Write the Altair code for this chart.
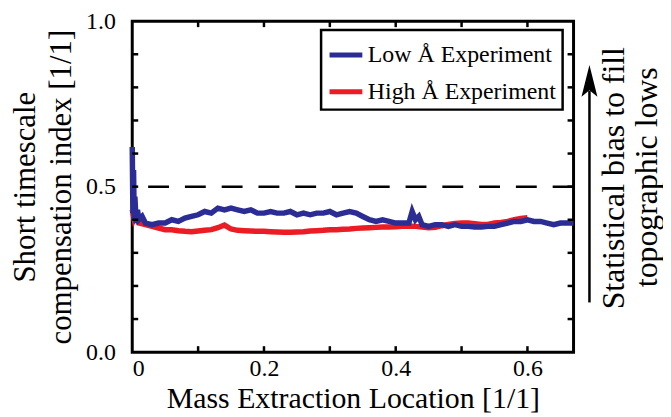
import altair as alt
import pandas as pd

# ---- data ----
blue_x = [0, 0.001, 0.002, 0.003, 0.004, 0.006, 0.008, 0.01, 0.015, 0.02,
          0.03, 0.04, 0.05, 0.06, 0.07, 0.08, 0.09, 0.10, 0.11, 0.12,
          0.13, 0.14, 0.15, 0.16, 0.17, 0.18, 0.19, 0.20, 0.21, 0.22,
          0.23, 0.24, 0.25, 0.26, 0.27, 0.28, 0.29, 0.30, 0.31, 0.32,
          0.33, 0.34, 0.35, 0.36, 0.37, 0.38, 0.39, 0.40, 0.41, 0.42,
          0.425, 0.43, 0.435, 0.44, 0.45, 0.46, 0.47, 0.48, 0.49, 0.50,
          0.51, 0.52, 0.53, 0.54, 0.55, 0.56, 0.57, 0.58, 0.59, 0.60,
          0.61, 0.62, 0.63, 0.64, 0.65, 0.66, 0.67]
blue_y = [0.62, 0.42, 0.55, 0.40, 0.47, 0.39, 0.43, 0.40, 0.41, 0.39,
          0.385, 0.39, 0.39, 0.40, 0.395, 0.405, 0.41, 0.415, 0.425, 0.42,
          0.435, 0.43, 0.435, 0.43, 0.425, 0.43, 0.42, 0.42, 0.425, 0.42,
          0.42, 0.425, 0.415, 0.42, 0.415, 0.42, 0.42, 0.425, 0.415, 0.42,
          0.425, 0.42, 0.41, 0.40, 0.395, 0.40, 0.395, 0.39, 0.39, 0.39,
          0.425, 0.40, 0.41, 0.385, 0.38, 0.385, 0.385, 0.38, 0.385, 0.38,
          0.38, 0.378, 0.378, 0.38, 0.38, 0.385, 0.39, 0.395, 0.395, 0.40,
          0.395, 0.395, 0.39, 0.385, 0.39, 0.39, 0.39]

red_x = [0, 0.003, 0.006, 0.01, 0.02, 0.03, 0.04, 0.05, 0.06, 0.07,
         0.08, 0.09, 0.10, 0.11, 0.12, 0.13, 0.14, 0.15, 0.16, 0.17,
         0.18, 0.19, 0.20, 0.21, 0.22, 0.23, 0.24, 0.25, 0.26, 0.27,
         0.28, 0.29, 0.30, 0.31, 0.32, 0.33, 0.34, 0.35, 0.36, 0.37,
         0.38, 0.39, 0.40, 0.41, 0.42, 0.43, 0.44, 0.45, 0.46, 0.47,
         0.48, 0.49, 0.50, 0.51, 0.52, 0.53, 0.54, 0.55, 0.56, 0.57,
         0.58, 0.59, 0.60]
red_y = [0.43, 0.40, 0.41, 0.39, 0.385, 0.38, 0.375, 0.37, 0.37, 0.367,
         0.365, 0.364, 0.366, 0.368, 0.37, 0.376, 0.384, 0.372, 0.368, 0.367,
         0.366, 0.365, 0.365, 0.364, 0.363, 0.362, 0.362, 0.363, 0.364, 0.366,
         0.367, 0.368, 0.37, 0.37, 0.371, 0.372, 0.374, 0.375, 0.376, 0.377,
         0.378, 0.378, 0.379, 0.38, 0.381, 0.38, 0.378, 0.376, 0.377, 0.382,
         0.386, 0.389, 0.39, 0.39, 0.388, 0.386, 0.386, 0.39, 0.392, 0.395,
         0.40, 0.404, 0.406]

series_names = ["Low Å Experiment", "High Å Experiment"]
series_colors = ["#2b2d94", "#ec1c24"]
x_label_values = [0, 0.2, 0.4, 0.6]
y_label_values = [0.0, 0.5, 1.0]
x_minor_ticks = [0.1, 0.2, 0.3, 0.4, 0.5, 0.6]
y_minor_ticks = [0.1, 0.2, 0.3, 0.4, 0.5, 0.6, 0.7, 0.8, 0.9]
reference_level = [0.5]

FONT = "Liberation Serif, Times New Roman, serif"
W, H = 444, 333

blue = pd.DataFrame({"x": blue_x, "y": blue_y, "series": series_names[0]})
red = pd.DataFrame({"x": red_x, "y": red_y, "series": series_names[1]})

xscale = alt.Scale(domain=[0, 0.67], nice=False, zero=False)
yscale = alt.Scale(domain=[0, 1], nice=False)
cscale = alt.Scale(domain=series_names, range=series_colors)

xaxis = alt.Axis(values=x_label_values,
                 labelExpr="datum.value == 0 ? '0' : format(datum.value, '.1f')",
                 ticks=False, domain=False, grid=False,
                 labelFont=FONT, labelFontSize=24, labelColor="black", labelPadding=5,
                 title="Mass Extraction Location [1/1]", titleFont=FONT, titleFontSize=30,
                 titleFontWeight="normal", titleColor="black", titlePadding=3)
yaxis = alt.Axis(values=y_label_values, format=".1f",
                 ticks=False, domain=False, grid=False,
                 labelFont=FONT, labelFontSize=24, labelColor="black", labelPadding=17,
                 title=["Short timescale", "compensation index [1/1]"],
                 titleFont=FONT, titleFontSize=31, titleFontWeight="normal",
                 titleColor="black", titlePadding=8, titleLineHeight=36)

legend = alt.Legend(orient="none", legendX=190, legendY=9, title=None,
                    symbolType="stroke", symbolSize=1089, symbolStrokeWidth=5,
                    labelFont=FONT, labelFontSize=24, labelColor="black",
                    labelLimit=400, labelOffset=3, strokeColor="black",
                    fillColor="white", padding=6, rowPadding=6)

red_line = alt.Chart(red).mark_line(strokeWidth=5.5).encode(
    x=alt.X("x:Q", scale=xscale, axis=xaxis),
    y=alt.Y("y:Q", scale=yscale, axis=yaxis),
    color=alt.Color("series:N", scale=cscale, legend=legend),
)
blue_line = alt.Chart(blue).mark_line(strokeWidth=5.5).encode(
    x=alt.X("x:Q", scale=xscale),
    y=alt.Y("y:Q", scale=yscale),
    color=alt.Color("series:N", scale=cscale, legend=legend),
)

dash = alt.Chart(pd.DataFrame({"y": reference_level})).mark_rule(
    color="black", strokeWidth=2.5, strokeDash=[21, 16]).encode(
    y=alt.Y("y:Q", scale=yscale))

xt = pd.DataFrame({"v": x_minor_ticks})
yt = pd.DataFrame({"v": y_minor_ticks})
tick_style = dict(color="black", strokeWidth=2.5)
ticks_bottom = alt.Chart(xt).mark_rule(**tick_style).encode(
    x=alt.X("v:Q", scale=xscale), y=alt.value(H), y2=alt.value(H - 6))
ticks_top = alt.Chart(xt).mark_rule(**tick_style).encode(
    x=alt.X("v:Q", scale=xscale), y=alt.value(0), y2=alt.value(6))
ticks_left = alt.Chart(yt).mark_rule(**tick_style).encode(
    y=alt.Y("v:Q", scale=yscale), x=alt.value(0), x2=alt.value(6))
ticks_right = alt.Chart(yt).mark_rule(**tick_style).encode(
    y=alt.Y("v:Q", scale=yscale), x=alt.value(W), x2=alt.value(W - 6))

# right-hand annotation (arrow + rotated text)
arrow_shaft = alt.Chart(pd.DataFrame({"a": [0]})).mark_rule(
    color="black", strokeWidth=2.5).encode(
    x=alt.value(460), y=alt.value(283), y2=alt.value(70))
arrow_head = alt.Chart(pd.DataFrame({"a": [0]})).mark_point(
    shape="M0,-1L0.5,1L0,0.6L-0.5,1Z", filled=True, color="black",
    opacity=1, size=1024).encode(x=alt.value(460), y=alt.value(60))
note1 = alt.Chart(pd.DataFrame({"t": ["Statistical bias to fill"]})).mark_text(
    font=FONT, fontSize=32, angle=270, align="center", baseline="middle",
    color="black").encode(text="t:N", x=alt.value(485), y=alt.value(158))
note2 = alt.Chart(pd.DataFrame({"t": ["topographic lows"]})).mark_text(
    font=FONT, fontSize=32, angle=270, align="center", baseline="middle",
    color="black").encode(text="t:N", x=alt.value(518), y=alt.value(157))

chart = alt.layer(
    red_line, blue_line, dash,
    ticks_bottom, ticks_top, ticks_left, ticks_right,
    arrow_shaft, arrow_head, note1, note2,
).properties(
    width=W, height=H,
    autosize=alt.AutoSizeParams(type="none"),
    padding={"left": 125, "top": 12, "right": 90, "bottom": 62},
).configure_view(stroke="black", strokeWidth=3).configure_legend(strokeWidth=2.5)

chart.save("out.html", embed_options={"renderer": "svg", "actions": False})
